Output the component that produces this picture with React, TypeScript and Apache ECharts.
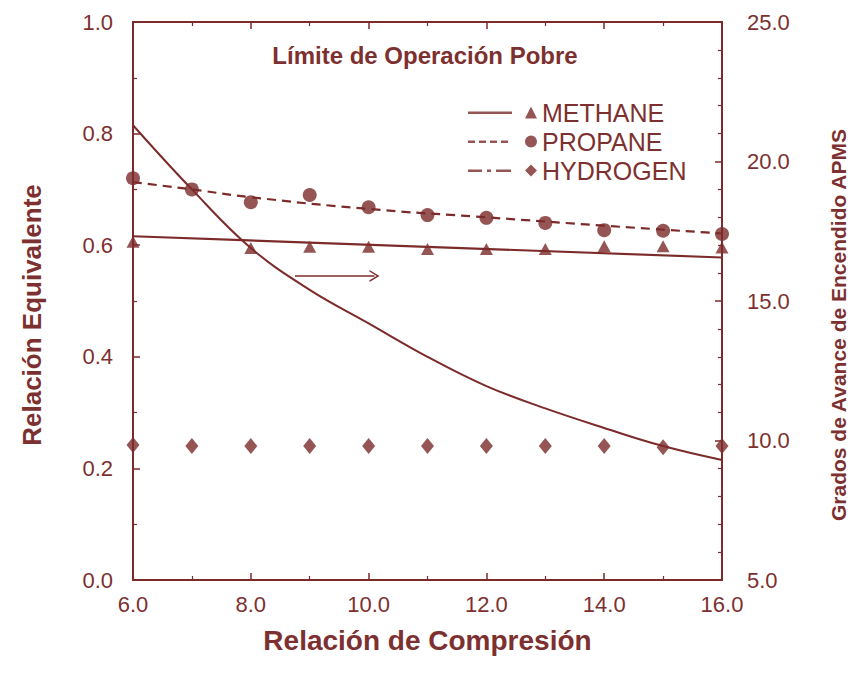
import React, { useEffect, useRef } from "react";
import * as echarts from "echarts";

// ---- data ----
const methaneX = [6, 8, 9, 10, 11, 12, 13, 14, 15, 16];
const methaneLimit = [0.606, 0.595, 0.597, 0.597, 0.593, 0.593, 0.593, 0.598, 0.598, 0.596];
const methaneFitX = [6, 16];
const methaneFit = [0.616, 0.578];

const propaneX = [6, 7, 8, 9, 10, 11, 12, 13, 14, 15, 16];
const propaneLimit = [0.72, 0.7, 0.677, 0.69, 0.668, 0.654, 0.649, 0.64, 0.627, 0.626, 0.62];
const propaneFitX = [6, 7, 8, 10, 12, 14, 16];
const propaneFit = [0.713, 0.7, 0.686, 0.665, 0.65, 0.635, 0.621];

const hydrogenX = [6, 7, 8, 9, 10, 11, 12, 13, 14, 15, 16];
const hydrogenLimit = [0.242, 0.24, 0.24, 0.24, 0.24, 0.24, 0.24, 0.24, 0.24, 0.238, 0.24];

const advanceX = [6, 7, 8, 9, 10, 11, 12, 13, 14, 15, 16];
const sparkAdvance = [21.3, 19.0, 16.9, 15.4, 14.2, 13.0, 11.95, 11.15, 10.45, 9.8, 9.3];

const arrowFrom = [8.75, 15.9];
const arrowTo = [10.1, 15.9];

const seriesNames = ["METHANE", "PROPANE", "HYDROGEN"];
const chartTitle = "Límite de Operación Pobre";
const xTitle = "Relación de Compresión";
const yLeftTitle = "Relación Equivalente";
const yRightTitle = "Grados de Avance de Encendido APMS";

const zip = (xs: number[], ys: number[]) => xs.map((x, i) => [x, ys[i]]);

const MAROON = "#7c2a2a";
const TEXT = "#7d3030";
const FONT = "'Liberation Sans', Arial, sans-serif";

export default function App() {
  const ref = useRef<HTMLDivElement>(null);
  useEffect(() => {
    if (!ref.current) return;
    const chart = echarts.init(ref.current, null, { renderer: "svg" });
    const axisLine = { show: true, lineStyle: { color: MAROON, width: 2 } };
    const axisTick = { show: true, inside: true, length: 7, lineStyle: { color: MAROON, width: 1.5 } };
    const minorTick = { show: true, length: 4, lineStyle: { color: MAROON, width: 1.2 } };
    const label = { color: TEXT, fontSize: 22, fontFamily: FONT };
    const fmt = (v: number) => v.toFixed(1);

    chart.setOption({
      animation: false,
      backgroundColor: "#ffffff",
      title: {
        text: chartTitle,
        left: "center",
        top: 38,
        textStyle: { color: TEXT, fontSize: 24, fontWeight: "bold", fontFamily: FONT },
      },
      legend: {
        orient: "vertical",
        left: 463,
        top: 95,
        itemWidth: 69,
        itemHeight: 12,
        itemGap: 4,
        textStyle: { color: TEXT, fontSize: 25, fontFamily: FONT },
        data: [
          { name: seriesNames[0], icon: "path://M0 5h44v2.5h-44z M63 0L69 12L57 12Z" },
          {
            name: seriesNames[1],
            icon: "path://M0 5h7v2.5h-7z M11 5h7v2.5h-7z M22 5h7v2.5h-7z M33 5h7v2.5h-7z M57 6a6 6 0 1 0 12 0a6 6 0 1 0 -12 0z",
          },
          {
            name: seriesNames[2],
            icon: "path://M0 5h14v2.5h-14z M19 5h4v2.5h-4z M28 5h15v2.5h-15z M63 0L69 6L63 12L57 6Z",
          },
        ],
      },
      grid: { left: 133, right: 128, top: 22, bottom: 100, outerBoundsMode: "none", containLabel: false },
      xAxis: [
        {
          type: "value",
          min: 6,
          max: 16,
          interval: 2,
          position: "bottom",
          axisLine,
          axisTick,
          minorTick: { ...minorTick, splitNumber: 2 },
          splitLine: { show: false },
          axisLabel: { ...label, margin: 13, formatter: fmt },
          name: xTitle,
          nameLocation: "middle",
          nameGap: 46,
          nameTextStyle: { color: TEXT, fontSize: 28, fontWeight: "bold", fontFamily: FONT },
        },
        {
          type: "value",
          min: 6,
          max: 16,
          interval: 2,
          position: "top",
          axisLine,
          axisTick,
          minorTick: { ...minorTick, splitNumber: 2 },
          splitLine: { show: false },
          axisLabel: { show: false },
        },
      ],
      yAxis: [
        {
          type: "value",
          min: 0,
          max: 1,
          interval: 0.2,
          position: "left",
          axisLine,
          axisTick,
          minorTick: { ...minorTick, splitNumber: 2 },
          splitLine: { show: false },
          axisLabel: { ...label, margin: 20, formatter: fmt },
          name: yLeftTitle,
          nameLocation: "middle",
          nameRotate: 90,
          nameGap: 88,
          nameTextStyle: {
            color: TEXT,
            fontSize: 26,
            fontWeight: "bold",
            fontFamily: FONT,
            padding: [0, 28, 0, 0],
          },
        },
        {
          type: "value",
          min: 5,
          max: 25,
          interval: 5,
          position: "right",
          axisLine,
          axisTick,
          minorTick: { ...minorTick, splitNumber: 5 },
          splitLine: { show: false },
          axisLabel: { ...label, margin: 25, formatter: fmt },
          name: yRightTitle,
          nameLocation: "middle",
          nameRotate: 90,
          nameGap: 106,
          nameTextStyle: {
            color: TEXT,
            fontSize: 21,
            fontWeight: "bold",
            fontFamily: FONT,
            padding: [0, 48, 0, 0],
          },
        },
      ],
      series: [
        {
          name: "propaneFit",
          type: "line",
          smooth: true,
          symbol: "none",
          data: zip(propaneFitX, propaneFit),
          lineStyle: { color: MAROON, width: 2.2, type: [9, 6] },
          z: 2,
        },
        {
          name: "methaneFit",
          type: "line",
          symbol: "none",
          data: zip(methaneFitX, methaneFit),
          lineStyle: { color: MAROON, width: 2.2 },
          z: 2,
        },
        {
          name: "sparkAdvance",
          type: "line",
          smooth: 0.4,
          symbol: "none",
          yAxisIndex: 1,
          data: zip(advanceX, sparkAdvance),
          lineStyle: { color: MAROON, width: 2 },
          z: 2,
          markLine: {
            silent: true,
            symbol: ["none", "path://M0 10L5 0L10 10L8.6 10L5 2.8L1.4 10Z"],
            symbolSize: [12, 10],
            label: { show: false },
            lineStyle: { color: MAROON, width: 1.5, type: "solid" },
            data: [[{ coord: arrowFrom }, { coord: arrowTo }]],
          },
        },
        {
          name: seriesNames[0],
          type: "scatter",
          symbol: "triangle",
          symbolSize: [13, 12],
          data: zip(methaneX, methaneLimit),
          itemStyle: { color: MAROON },
          z: 3,
        },
        {
          name: seriesNames[1],
          type: "scatter",
          symbol: "circle",
          symbolSize: 14,
          data: zip(propaneX, propaneLimit),
          itemStyle: { color: MAROON },
          z: 3,
        },
        {
          name: seriesNames[2],
          type: "scatter",
          symbol: "diamond",
          symbolSize: [13, 16],
          data: zip(hydrogenX, hydrogenLimit),
          itemStyle: { color: MAROON },
          z: 3,
        },
      ],
    });
    return () => chart.dispose();
  }, []);
  return (
    <div
      ref={ref}
      style={{ position: "fixed", left: 0, top: 0, width: 850, height: 680, background: "#fff" }}
    />
  );
}
